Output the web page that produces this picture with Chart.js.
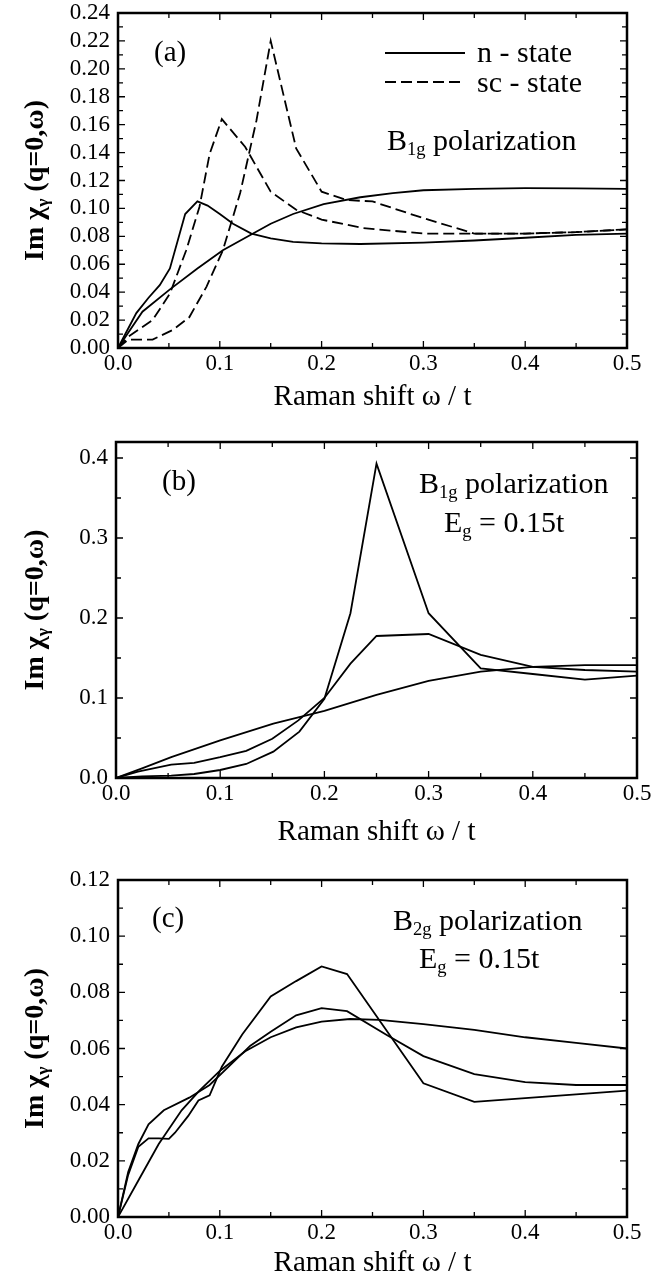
<!DOCTYPE html>
<html>
<head>
<meta charset="utf-8">
<script src="https://cdn.jsdelivr.net/npm/chart.js@4.4.1/dist/chart.umd.min.js"></script>
<style>
  body { margin: 0; background: #fff; }
  .panel { position: absolute; left: 0; }
</style>
</head>
<body>
<canvas id="chartA" class="panel" width="669" height="420" style="top:0"></canvas>
<canvas id="chartB" class="panel" width="669" height="430" style="top:420px"></canvas>
<canvas id="chartC" class="panel" width="669" height="431" style="top:850px"></canvas>
<script>
// ---- data, panel (a): B1g, n-state (solid) and sc-state (dashed)
const aN1x = [0, 0.005, 0.018, 0.03, 0.041, 0.051, 0.066, 0.078, 0.088, 0.1, 0.113, 0.131, 0.15, 0.172, 0.2, 0.238, 0.3, 0.35, 0.4, 0.45, 0.5];
const aN1y = [0, 0.007, 0.025, 0.036, 0.045, 0.057, 0.096, 0.105, 0.102, 0.096, 0.089, 0.082, 0.0785, 0.076, 0.075, 0.0745, 0.0755, 0.077, 0.079, 0.081, 0.082];
const aN2x = [0, 0.01, 0.024, 0.051, 0.078, 0.103, 0.13, 0.15, 0.172, 0.202, 0.238, 0.27, 0.3, 0.35, 0.4, 0.45, 0.5];
const aN2y = [0, 0.011, 0.026, 0.042, 0.057, 0.070, 0.081, 0.089, 0.096, 0.103, 0.108, 0.111, 0.113, 0.114, 0.1145, 0.1143, 0.114];
const aS1x = [0, 0.01, 0.02, 0.034, 0.051, 0.067, 0.08, 0.09, 0.102, 0.125, 0.15, 0.175, 0.2, 0.24, 0.3, 0.35, 0.4, 0.45, 0.5];
const aS1y = [0, 0.008, 0.013, 0.020, 0.039, 0.070, 0.101, 0.139, 0.164, 0.144, 0.112, 0.099, 0.092, 0.086, 0.082, 0.082, 0.082, 0.083, 0.085];
const aS2x = [0, 0.01, 0.034, 0.054, 0.07, 0.087, 0.103, 0.12, 0.136, 0.15, 0.175, 0.2, 0.225, 0.25, 0.3, 0.35, 0.4, 0.45, 0.5];
const aS2y = [0, 0.006, 0.006, 0.013, 0.022, 0.044, 0.070, 0.111, 0.163, 0.220, 0.143, 0.112, 0.106, 0.105, 0.093, 0.082, 0.082, 0.083, 0.085];
const aYTicks = [0, 0.02, 0.04, 0.06, 0.08, 0.10, 0.12, 0.14, 0.16, 0.18, 0.20, 0.22, 0.24];

// ---- data, panel (b): B1g, Eg = 0.15t
const bPx = [0, 0.025, 0.053, 0.075, 0.1, 0.125, 0.151, 0.176, 0.2, 0.225, 0.25, 0.3, 0.35, 0.4, 0.45, 0.5];
const bPy = [0, 0.002, 0.003, 0.005, 0.010, 0.0175, 0.033, 0.058, 0.099, 0.206, 0.393, 0.206, 0.137, 0.130, 0.123, 0.128];
const bMx = [0, 0.021, 0.053, 0.075, 0.1, 0.125, 0.15, 0.175, 0.2, 0.225, 0.25, 0.3, 0.35, 0.4, 0.45, 0.5];
const bMy = [0, 0.008, 0.0167, 0.019, 0.026, 0.034, 0.049, 0.072, 0.100, 0.143, 0.1775, 0.180, 0.154, 0.139, 0.135, 0.133];
const bLx = [0, 0.025, 0.053, 0.1, 0.151, 0.2, 0.25, 0.3, 0.35, 0.4, 0.45, 0.5];
const bLy = [0, 0.012, 0.026, 0.047, 0.068, 0.084, 0.104, 0.1215, 0.133, 0.139, 0.141, 0.141];
const bYTicks = [0, 0.1, 0.2, 0.3, 0.4];

// ---- data, panel (c): B2g, Eg = 0.15t
const cPx = [0, 0.01, 0.02, 0.03, 0.04, 0.05, 0.056, 0.069, 0.079, 0.09, 0.102, 0.122, 0.15, 0.175, 0.2, 0.225, 0.3, 0.35, 0.4, 0.45, 0.5];
const cPy = [0, 0.015, 0.025, 0.028, 0.028, 0.0278, 0.030, 0.036, 0.0415, 0.0433, 0.0535, 0.065, 0.0785, 0.084, 0.0892, 0.0865, 0.0476, 0.041, 0.0423, 0.0437, 0.045];
const cMx = [0, 0.01, 0.02, 0.03, 0.045, 0.07, 0.09, 0.11, 0.13, 0.15, 0.175, 0.2, 0.225, 0.264, 0.3, 0.35, 0.4, 0.45, 0.5];
const cMy = [0, 0.016, 0.026, 0.033, 0.038, 0.0425, 0.047, 0.054, 0.061, 0.066, 0.0718, 0.0744, 0.0733, 0.0648, 0.0573, 0.0509, 0.048, 0.047, 0.047];
const cLx = [0, 0.02, 0.04, 0.0625, 0.08, 0.1, 0.125, 0.15, 0.175, 0.2, 0.228, 0.257, 0.3, 0.35, 0.4, 0.45, 0.5];
const cLy = [0, 0.013, 0.026, 0.038, 0.045, 0.052, 0.059, 0.064, 0.0675, 0.0696, 0.0705, 0.0702, 0.0687, 0.0666, 0.064, 0.062, 0.060];
const cYTicks = [0, 0.02, 0.04, 0.06, 0.08, 0.10, 0.12];

const xTicks = [0, 0.1, 0.2, 0.3, 0.4, 0.5];

const SERIF = "'Liberation Serif', 'DejaVu Serif', serif";
const DASH = [11, 5];

function pts(xs, ys) {
    return xs.map((x, i) => ({x: x, y: ys[i]}));
}

function line(xs, ys, dashed) {
    return {
        data: pts(xs, ys),
        borderColor: '#000',
        borderWidth: 1.8,
        borderDash: dashed ? DASH : [],
        pointRadius: 0,
        tension: 0,
        fill: false
    };
}

// draws a string made of normal and subscript pieces, left aligned at (x, baseline)
function richText(ctx, parts, x, y, size, weight) {
    let cx = x;
    parts.forEach(p => {
        const s = p.sub ? size * 0.62 : size;
        ctx.font = `${weight || 'normal'} ${s}px ${SERIF}`;
        ctx.fillText(p.t, cx, p.sub ? y + size * 0.18 : y);
        cx += ctx.measureText(p.t).width;
    });
    return cx - x;
}

function richWidth(ctx, parts, size, weight) {
    let w = 0;
    parts.forEach(p => {
        const s = p.sub ? size * 0.62 : size;
        ctx.font = `${weight || 'normal'} ${s}px ${SERIF}`;
        w += ctx.measureText(p.t).width;
    });
    return w;
}

const yTitleParts = [{t: 'Im \u03c7'}, {t: '\u03b3', sub: true}, {t: ' (q=0,\u03c9)'}];

// frame, inward ticks on all four sides, y title and the panel texts
const framePlugin = {
    id: 'frame',
    afterDraw(chart, args, opts) {
        const {ctx, chartArea: a, scales: {x, y}} = chart;
        ctx.save();
        ctx.strokeStyle = '#000';
        ctx.fillStyle = '#000';

        // tick marks: labelled ones long, midpoints short
        ctx.lineWidth = 1.3;
        const xs = [], ys = [];
        xTicks.forEach((v, i) => {
            xs.push([v, 7]);
            if (i < xTicks.length - 1) xs.push([(v + xTicks[i + 1]) / 2, 5]);
        });
        opts.yTicks.forEach((v, i) => {
            ys.push([v, 7]);
            if (i < opts.yTicks.length - 1) ys.push([(v + opts.yTicks[i + 1]) / 2, 5]);
        });
        ctx.beginPath();
        xs.forEach(([v, len]) => {
            const px = x.getPixelForValue(v);
            ctx.moveTo(px, a.bottom); ctx.lineTo(px, a.bottom - len);
            ctx.moveTo(px, a.top); ctx.lineTo(px, a.top + len);
        });
        ys.forEach(([v, len]) => {
            const py = y.getPixelForValue(v);
            ctx.moveTo(a.left, py); ctx.lineTo(a.left + len, py);
            ctx.moveTo(a.right, py); ctx.lineTo(a.right - len, py);
        });
        ctx.stroke();

        ctx.lineWidth = 2.5;
        ctx.strokeRect(a.left, a.top, a.right - a.left, a.bottom - a.top);

        // y axis title, rotated
        ctx.save();
        ctx.translate(opts.yTitleX, (a.top + a.bottom) / 2);
        ctx.rotate(-Math.PI / 2);
        ctx.textBaseline = 'alphabetic';
        const w = richWidth(ctx, yTitleParts, 28, 'bold');
        richText(ctx, yTitleParts, -w / 2, 9, 28, 'bold');
        ctx.restore();

        // panel texts
        ctx.textBaseline = 'alphabetic';
        opts.texts.forEach(t => richText(ctx, t.parts, t.x, t.y, t.size));

        // legend samples
        if (opts.legend) {
            opts.legend.forEach(l => {
                ctx.lineWidth = 1.8;
                ctx.setLineDash(l.dashed ? DASH : []);
                ctx.beginPath();
                ctx.moveTo(l.x1, l.y); ctx.lineTo(l.x2, l.y);
                ctx.stroke();
            });
            ctx.setLineDash([]);
        }
        ctx.restore();
    }
};

function makePanel(id, cfg) {
    const tickFont = {family: SERIF, size: 23};
    new Chart(document.getElementById(id), {
        type: 'line',
        data: {datasets: cfg.datasets},
        options: {
            responsive: false,
            animation: false,
            devicePixelRatio: 1,
            layout: {padding: {left: 0, top: cfg.top, right: 669 - cfg.right, bottom: 0}},
            plugins: {
                legend: {display: false},
                tooltip: {enabled: false},
                frame: {yTicks: cfg.yTicks, yTitleX: 34, texts: cfg.texts, legend: cfg.legend}
            },
            scales: {
                x: {
                    type: 'linear', min: 0, max: 0.5,
                    afterBuildTicks: s => { s.ticks = xTicks.map(v => ({value: v})); },
                    ticks: {font: tickFont, color: '#000', padding: 2, maxRotation: 0, autoSkip: false,
                            callback: v => v.toFixed(1)},
                    grid: {display: false, drawTicks: false},
                    border: {display: false},
                    title: {display: true, text: 'Raman shift \u03c9 / t', color: '#000',
                            font: {family: SERIF, size: 29}, padding: {top: 0, bottom: cfg.titlePad}},
                    afterFit: s => { s.height = cfg.height - cfg.bottom; s.paddingLeft = 0; s.paddingRight = 0; }
                },
                y: {
                    type: 'linear', min: 0, max: cfg.yMax,
                    afterBuildTicks: s => { s.ticks = cfg.yTicks.map(v => ({value: v})); },
                    ticks: {font: tickFont, color: '#000', padding: 8, autoSkip: false,
                            callback: v => v.toFixed(cfg.digits)},
                    grid: {display: false, drawTicks: false},
                    border: {display: false},
                    afterFit: s => { s.width = cfg.left; s.paddingTop = 0; s.paddingBottom = 0; }
                }
            }
        },
        plugins: [framePlugin]
    });
}

makePanel('chartA', {
    height: 420, left: 118, right: 627, top: 13, bottom: 348, titlePad: 5,
    yMax: 0.24, yTicks: aYTicks, digits: 2,
    datasets: [line(aN1x, aN1y, false), line(aN2x, aN2y, false), line(aS1x, aS1y, true), line(aS2x, aS2y, true)],
    texts: [
        {parts: [{t: '(a)'}], x: 154, y: 61, size: 29},
        {parts: [{t: 'n - state'}], x: 477, y: 62, size: 30},
        {parts: [{t: 'sc - state'}], x: 477, y: 92, size: 30},
        {parts: [{t: 'B'}, {t: '1g', sub: true}, {t: ' polarization'}], x: 387, y: 150, size: 30}
    ],
    legend: [
        {x1: 385, x2: 465, y: 53, dashed: false},
        {x1: 385, x2: 465, y: 82, dashed: true}
    ]
});

makePanel('chartB', {
    height: 430, left: 116, right: 637, top: 22, bottom: 358, titlePad: 0,
    yMax: 0.42, yTicks: bYTicks, digits: 1,
    datasets: [line(bPx, bPy, false), line(bMx, bMy, false), line(bLx, bLy, false)],
    texts: [
        {parts: [{t: '(b)'}], x: 162, y: 70, size: 29},
        {parts: [{t: 'B'}, {t: '1g', sub: true}, {t: ' polarization'}], x: 419, y: 73, size: 30},
        {parts: [{t: 'E'}, {t: 'g', sub: true}, {t: ' = 0.15t'}], x: 444, y: 112, size: 30}
    ]
});

makePanel('chartC', {
    height: 431, left: 118, right: 627, top: 30, bottom: 367, titlePad: 0,
    yMax: 0.12, yTicks: cYTicks, digits: 2,
    datasets: [line(cPx, cPy, false), line(cMx, cMy, false), line(cLx, cLy, false)],
    texts: [
        {parts: [{t: '(c)'}], x: 152, y: 77, size: 29},
        {parts: [{t: 'B'}, {t: '2g', sub: true}, {t: ' polarization'}], x: 393, y: 80, size: 30},
        {parts: [{t: 'E'}, {t: 'g', sub: true}, {t: ' = 0.15t'}], x: 419, y: 118, size: 30}
    ]
});
</script>
</body>
</html>
